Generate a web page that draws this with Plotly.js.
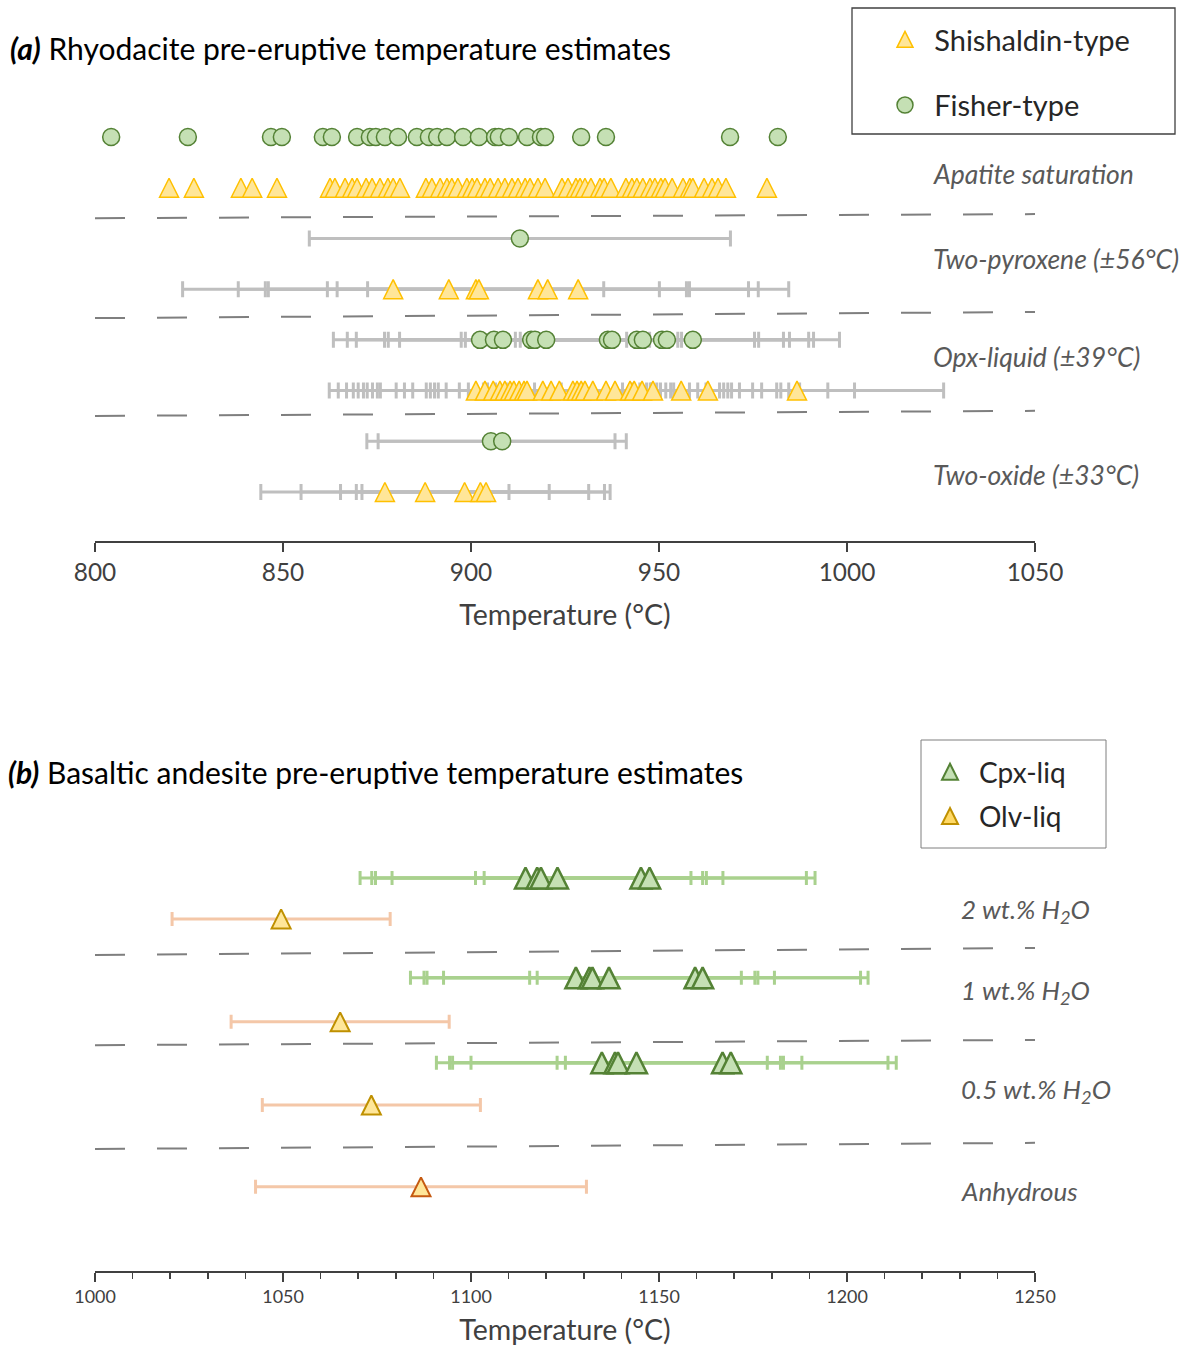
<!DOCTYPE html>
<html>
<head>
<meta charset="utf-8">
<script src="https://cdn.plot.ly/plotly-3.0.1.min.js"></script>
<style>html,body{margin:0;padding:0;background:#fff;}#chart{width:1182px;height:1347px;}</style>
</head>
<body>
<div id="chart"></div>
<script>
// ---------------- DATA (°C) ----------------
// Panel (a): rhyodacite
const fisherApatite = [804.3, 824.7, 846.8, 849.7, 860.6, 863.0, 869.7, 873.1, 874.7, 877.1, 880.6, 885.6, 888.8, 891.0, 893.6, 897.9, 902.1, 906.4, 907.4, 910.1, 914.9, 918.6, 919.7, 929.3, 935.9, 968.9, 981.6];
const shishApatite = [819.7, 826.3, 838.8, 841.8, 848.4, 862.5, 863.8, 866.5, 868.4, 869.7, 872.1, 873.7, 875.8, 877.9, 879.3, 881.1, 888.0, 889.6, 891.8, 893.6, 894.9, 896.5, 898.9, 900.3, 901.6, 903.7, 905.1, 907.2, 909.0, 910.9, 912.5, 914.4, 915.7, 917.8, 919.7, 924.2, 925.8, 927.9, 929.0, 930.3, 931.9, 934.3, 935.4, 937.2, 941.2, 942.8, 944.1, 945.7, 947.6, 948.9, 950.5, 951.6, 953.5, 956.4, 958.2, 959.0, 962.0, 964.1, 965.7, 967.8, 978.7];
const fisherTwoPx = [913.0];
const shishTwoPx = [879.3, 894.1, 901.3, 902.1, 917.8, 920.4, 928.5];
const fisherOpx = [902.4, 906.1, 908.5, 916.0, 917.0, 920.0, 936.4, 937.5, 944.1, 945.7, 950.8, 952.1, 959.0];
const shishOpx = [901.3, 903.7, 905.9, 907.7, 909.0, 910.4, 911.4, 912.8, 914.1, 914.9, 919.1, 921.3, 923.5, 927.1, 928.2, 929.3, 930.3, 932.4, 935.9, 938.3, 942.3, 943.4, 945.5, 948.4, 955.9, 963.0, 986.7];
const fisherOxide = [905.3, 908.3];
const shishOxide = [877.1, 887.8, 898.3, 902.5, 904.0];
const errTwoPx = 56, errOpx = 39, errOxide = 33;
const methodLabelsA = ['Apatite saturation', 'Two-pyroxene (±56°C)', 'Opx-liquid (±39°C)', 'Two-oxide (±33°C)'];
const legendNamesA = ['Shishaldin-type', 'Fisher-type'];

// Panel (b): basaltic andesite
const cpx2 = [1114.5, 1117.6, 1118.6, 1123.0, 1145.2, 1147.5];
const olv2 = [1049.5];
const cpx1 = [1127.9, 1131.5, 1132.3, 1136.7, 1159.6, 1161.6];
const olv1 = [1065.2];
const cpx05 = [1134.8, 1138.3, 1139.1, 1144.0, 1166.9, 1169.1];
const olv05 = [1073.5];
const olvAnhydrous = [1086.7];
const errCpx = 44, errOlv = 29, errAnhydrous = 44;
const waterLabelsB = ['2 wt.% H<sub>2</sub>O', '1 wt.% H<sub>2</sub>O', '0.5 wt.% H<sub>2</sub>O', 'Anhydrous'];
const legendNamesB = ['Cpx-liq', 'Olv-liq'];

// ---------------- LAYOUT CONSTANTS ----------------
const W = 1182, H = 1347;
const FONT = 'Lato, "Open Sans", sans-serif';
const NB = '\u00a0\u200a';       // small gap between legend symbol and text
const px = v => v / W;          // x pixel -> paper
const py = v => 1 - v / H;      // y pixel -> paper
const rowA = {fApat: 0, sApat: 1, f2px: 2, s2px: 3, fOpx: 4, sOpx: 5, fOx: 6, sOx: 7};
const rowB = {cpx2: 0, olv2: 0.93, cpx1: 2.27, olv1: 3.27, cpx05: 4.20, olv05: 5.16, anh: 7.02};
const OFF_ROW = 100;            // legend proxies sit outside the visible rows (clipped)

// upright triangles centred on the point (arrow rotated + standoff)
const tri = (size, fill, line, lw) => ({symbol: 'arrow-down', angle: 180, standoff: size / 2, size: size,
  color: fill, line: {color: line, width: lw}});
// legend proxy triangles (legend negates standoff -> centred in legend)
const triLegend = (fill, line, lw) => ({symbol: 'arrow-up', angle: 0, standoff: 8, size: 16,
  color: fill, line: {color: line, width: lw}});

const fisherMarker = {symbol: 'circle', size: 17, color: '#c5e0b4', line: {color: '#548235', width: 1.5}};
const shishMarker = tri(19, '#ffe699', '#ffc000', 1.5);
const cpxMarker = tri(21, '#c5e0b4', '#548235', 2.5);
const olvMarker = tri(19, '#ffe699', '#bf9000', 2);
const anhMarker = tri(19, '#ffe699', '#c55a11', 2);

function errBar(v, color, w) {
  return {type: 'constant', value: v, color: color, thickness: 3, width: w};
}
function tr(xs, row, marker, opts) {
  return Object.assign({
    type: 'scatter', mode: 'markers', x: xs, y: xs.map(() => row),
    marker: marker, hoverinfo: 'x', cliponaxis: false, showlegend: false
  }, opts);
}
const grayErr = v => errBar(v, '#bfbfbf', 8);
const B = {xaxis: 'x2', yaxis: 'y2', legend: 'legend2'};

const traces = [
  // panel a
  tr(fisherApatite, rowA.fApat, fisherMarker, {name: NB + legendNamesA[1], legendgroup: 'fisher', showlegend: true, legendrank: 2}),
  tr(shishApatite, rowA.sApat, shishMarker, {legendgroup: 'shish'}),
  tr(fisherTwoPx, rowA.f2px, fisherMarker, {legendgroup: 'fisher', error_x: grayErr(errTwoPx)}),
  tr(shishTwoPx, rowA.s2px, shishMarker, {legendgroup: 'shish', error_x: grayErr(errTwoPx)}),
  tr(fisherOpx, rowA.fOpx, fisherMarker, {legendgroup: 'fisher', error_x: grayErr(errOpx)}),
  tr(shishOpx, rowA.sOpx, shishMarker, {legendgroup: 'shish', error_x: grayErr(errOpx)}),
  tr(fisherOxide, rowA.fOx, fisherMarker, {legendgroup: 'fisher', error_x: grayErr(errOxide)}),
  tr(shishOxide, rowA.sOx, shishMarker, {legendgroup: 'shish', error_x: grayErr(errOxide)}),
  // legend proxy (a)
  tr(shishApatite.slice(0, 1), OFF_ROW, triLegend('#ffe699', '#ffc000', 1.5),
     {name: NB + legendNamesA[0], legendgroup: 'shish', showlegend: true, legendrank: 1, cliponaxis: true}),
  // panel b
  tr(cpx2, rowB.cpx2, cpxMarker, Object.assign({legendgroup: 'cpx', error_x: errBar(errCpx, '#a9d18e', 7)}, B)),
  tr(olv2, rowB.olv2, olvMarker, Object.assign({legendgroup: 'olv', error_x: errBar(errOlv, '#f4c7a8', 7)}, B)),
  tr(cpx1, rowB.cpx1, cpxMarker, Object.assign({legendgroup: 'cpx', error_x: errBar(errCpx, '#a9d18e', 7)}, B)),
  tr(olv1, rowB.olv1, olvMarker, Object.assign({legendgroup: 'olv', error_x: errBar(errOlv, '#f4c7a8', 7)}, B)),
  tr(cpx05, rowB.cpx05, cpxMarker, Object.assign({legendgroup: 'cpx', error_x: errBar(errCpx, '#a9d18e', 7)}, B)),
  tr(olv05, rowB.olv05, olvMarker, Object.assign({legendgroup: 'olv', error_x: errBar(errOlv, '#f4c7a8', 7)}, B)),
  tr(olvAnhydrous, rowB.anh, anhMarker, Object.assign({legendgroup: 'olv', error_x: errBar(errAnhydrous, '#f4c7a8', 7)}, B)),
  // legend proxies (b)
  tr(cpx2.slice(0, 1), OFF_ROW, triLegend('#c5e0b4', '#548235', 2),
     Object.assign({name: NB + legendNamesB[0], legendgroup: 'cpx', showlegend: true, legendrank: 1, cliponaxis: true}, B)),
  tr(olv2.slice(0, 1), OFF_ROW, triLegend('#ffd966', '#bf9000', 2),
     Object.assign({name: NB + legendNamesB[1], legendgroup: 'olv', showlegend: true, legendrank: 2, cliponaxis: true}, B))
];

// separators (slightly tilted dashed lines)
function sep(xr, yr, x0, x1, yL, yR) {
  return {type: 'line', xref: xr, yref: yr, x0: x0, x1: x1, y0: yL, y1: yR,
          line: {color: '#7f7f7f', width: 2, dash: '30px,32px'}, layer: 'below'};
}
const shapes = [
  sep('x', 'y', 800, 1050, 1.60, 1.52),
  sep('x', 'y', 800, 1050, 3.57, 3.45),
  sep('x', 'y', 800, 1050, 5.50, 5.40),
  sep('x2', 'y2', 1000, 1250, 1.75, 1.59),
  sep('x2', 'y2', 1000, 1250, 3.80, 3.68),
  sep('x2', 'y2', 1000, 1250, 6.16, 6.02),
  // legend boxes
  {type: 'rect', xref: 'paper', yref: 'paper', x0: px(852), x1: px(1175), y0: py(8), y1: py(134), line: {color: '#404040', width: 1.3}},
  {type: 'rect', xref: 'paper', yref: 'paper', x0: px(921), x1: px(1106), y0: py(740), y1: py(848), line: {color: '#7f7f7f', width: 1}}
];

const annA = methodLabelsA.map((t, i) => ({
  text: '<i>' + t + '</i>', xref: 'paper', yref: 'y', x: px(931), y: [0.73, 2.41, 4.34, 6.67][i],
  xanchor: 'left', yanchor: 'middle', showarrow: false, font: {family: FONT, size: 26.5, color: '#595959'}
}));
const annB = waterLabelsB.map((t, i) => ({
  text: '<i>' + t + '</i>', xref: 'paper', yref: 'y2', x: px(959), y: [0.73, 2.59, 4.82, 7.11][i],
  xanchor: 'left', yanchor: 'middle', showarrow: false, font: {family: FONT, size: 26, color: '#595959'}
}));
const titleFont = {family: FONT, size: 30, color: '#000'};
const annTitles = [
  {text: '<b><i>(a)</i></b> Rhyodacite pre-eruptive temperature estimates', xref: 'paper', yref: 'paper',
   x: px(8), y: py(48), xanchor: 'left', yanchor: 'middle', showarrow: false, font: titleFont},
  {text: '<b><i>(b)</i></b> Basaltic andesite pre-eruptive temperature estimates', xref: 'paper', yref: 'paper',
   x: px(6), y: py(772), xanchor: 'left', yanchor: 'middle', showarrow: false, font: titleFont}
];

const axisCommon = {
  showline: true, linecolor: '#404040', linewidth: 2, ticks: 'outside', tickcolor: '#404040',
  tickwidth: 2, ticklen: 9, showgrid: false, zeroline: false, fixedrange: true, dtick: 50
};
const layout = {
  width: W, height: H, margin: {l: 0, r: 0, t: 0, b: 0},
  paper_bgcolor: '#fff', plot_bgcolor: 'rgba(0,0,0,0)',
  font: {family: FONT, color: '#404040'},
  xaxis: Object.assign({}, axisCommon, {
    domain: [px(95), px(1035)], range: [800, 1050], anchor: 'y',
    tickfont: {family: FONT, size: 24.4, color: '#404040'},
    title: {text: 'Temperature (°C)', font: {family: FONT, size: 28.5, color: '#404040'}, standoff: 20}
  }),
  yaxis: {domain: [py(541), 1], range: [7.966, -2.702], visible: false, fixedrange: true},
  xaxis2: Object.assign({}, axisCommon, {
    domain: [px(95), px(1035)], range: [1000, 1250], anchor: 'y2',
    minor: {dtick: 10, ticks: 'outside', ticklen: 6, tickcolor: '#404040', tickwidth: 1.5},
    tickfont: {family: FONT, size: 17.9, color: '#404040'},
    title: {text: 'Temperature (°C)', font: {family: FONT, size: 28.5, color: '#404040'}, standoff: 14}
  }),
  yaxis2: {domain: [py(1271), py(640)], range: [8.932, -5.409], visible: false, fixedrange: true},
  legend: {x: px(885), y: py(14), xanchor: 'left', yanchor: 'top', bgcolor: 'rgba(0,0,0,0)', borderwidth: 0,
           font: {family: FONT, size: 29, color: '#262626'}, traceorder: 'grouped', tracegroupgap: 25},
  legend2: {x: px(930), y: py(747), xanchor: 'left', yanchor: 'top', bgcolor: 'rgba(0,0,0,0)', borderwidth: 0,
           font: {family: FONT, size: 28, color: '#262626'}, traceorder: 'grouped', tracegroupgap: 5},
  shapes: shapes,
  annotations: annA.concat(annB, annTitles),
  showlegend: true
};

Plotly.newPlot('chart', traces, layout, {displayModeBar: false, staticPlot: true});
</script>
</body>
</html>
